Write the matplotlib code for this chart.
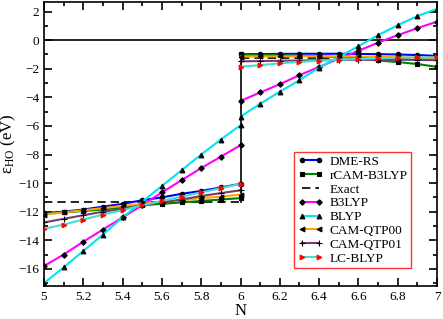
import matplotlib
matplotlib.use("Agg")
import matplotlib.pyplot as plt
from matplotlib.ticker import MultipleLocator

plt.rcParams['font.family'] = ['Liberation Serif', 'DejaVu Serif']
plt.rcParams['mathtext.fontset'] = 'custom'
plt.rcParams['mathtext.rm'] = 'Liberation Serif'
plt.rcParams['mathtext.it'] = 'Liberation Serif'

n_left = [5.0, 5.1, 5.2, 5.3, 5.4, 5.5, 5.6, 5.7, 5.8, 5.9, 6.0]
n_right = [6.0, 6.1, 6.2, 6.3, 6.4, 6.5, 6.6, 6.7, 6.8, 6.9, 7.0]

dme_left = [-12.1, -12.0, -11.85, -11.65, -11.45, -11.2, -11.0, -10.75, -10.55, -10.3, -10.05]
dme_right = [-0.98, -0.97, -0.96, -0.95, -0.95, -0.95, -0.96, -0.98, -1.0, -1.04, -1.1]
rcam_left = [-12.15, -12.05, -11.95, -11.85, -11.7, -11.55, -11.45, -11.35, -11.25, -11.15, -11.05]
rcam_right = [-1.0, -1.02, -1.05, -1.08, -1.12, -1.18, -1.28, -1.42, -1.53, -1.67, -1.87]
exact_left = [-11.3, -11.3]
exact_right = [-1.24, -1.24]
b3lyp_left = [-15.8, -15.0, -14.1, -13.25, -12.4, -11.55, -10.65, -9.8, -8.95, -8.15, -7.35]
b3lyp_right = [-4.25, -3.66, -3.08, -2.45, -1.87, -1.3, -0.75, -0.17, 0.35, 0.84, 1.3]
blyp_left = [-17.0, -15.9, -14.75, -13.6, -12.4, -11.3, -10.2, -9.1, -8.0, -6.95, -5.95]
blyp_right = [-5.35, -4.45, -3.6, -2.8, -1.92, -1.18, -0.42, 0.35, 1.05, 1.68, 2.2]
qtp00_left = [-12.2, -12.05, -11.9, -11.75, -11.6, -11.45, -11.3, -11.2, -11.05, -10.95, -10.8]
qtp00_right = [-1.15, -1.14, -1.13, -1.13, -1.13, -1.14, -1.15, -1.17, -1.19, -1.22, -1.25]
qtp01_left = [-12.75, -12.5, -12.25, -12.0, -11.8, -11.55, -11.35, -11.15, -10.9, -10.7, -10.5]
qtp01_right = [-1.48, -1.46, -1.44, -1.42, -1.4, -1.38, -1.37, -1.37, -1.37, -1.38, -1.4]
lc_left = [-13.2, -12.9, -12.55, -12.2, -11.9, -11.55, -11.25, -10.95, -10.65, -10.35, -10.05]
lc_right = [-1.85, -1.75, -1.62, -1.52, -1.43, -1.37, -1.31, -1.27, -1.23, -1.21, -1.2]

fig = plt.figure(figsize=(4.43, 3.19), dpi=100)
ax = fig.add_axes([0.0993, 0.1034, 0.8872, 0.8916])

ax.axhline(0, color='black', lw=1.2, zorder=1)
ax.plot([6, 6], [exact_left[0], dme_right[0]], color='black', lw=1.2, zorder=1)

series = [
    ("DME-RS", dme_left, dme_right, '#0000ff', 'o'),
    ("rCAM-B3LYP", rcam_left, rcam_right, '#008000', 's'),
    ("B3LYP", b3lyp_left, b3lyp_right, '#ff00ff', 'D'),
    ("BLYP", blyp_left, blyp_right, '#00e5ee', '^'),
    ("CAM-QTP00", qtp00_left, qtp00_right, '#ffa500', '<'),
    ("CAM-QTP01", qtp01_left, qtp01_right, '#7a3b6e', '+'),
    ("LC-BLYP", lc_left, lc_right, '#40e0d0', '>'),
]
sizes = {'o': 3.2, 's': 3.0, 'D': 2.8, '^': 3.4, '<': 3.4, '+': 5, '>': 3.4}
handles = {}
for name, yl, yr, col, mk in series:
    kw = dict(color=col, lw=1.5, marker=mk, markersize=sizes[mk], markerfacecolor='black',
              markeredgecolor='black', markeredgewidth=0.8, zorder=3)
    if name == "LC-BLYP":
        kw['markerfacecolor'] = 'red'
        kw['markeredgecolor'] = 'red'
    h, = ax.plot(n_left, yl, label=name, **kw)
    ax.plot(n_right, yr, **kw)
    handles[name] = h

h_exact, = ax.plot([5, 6], exact_left, color='black', lw=1.2, ls=(0, (5, 3)), label='Exact', zorder=2)
ax.plot([6, 7], exact_right, color='black', lw=1.2, ls=(0, (5, 3)), zorder=2)
handles['Exact'] = h_exact

order = ["DME-RS", "rCAM-B3LYP", "Exact", "B3LYP", "BLYP", "CAM-QTP00", "CAM-QTP01", "LC-BLYP"]
leg = ax.legend([handles[k] for k in order], order, loc='upper left',
                bbox_to_anchor=(0.637, 0.47), numpoints=2, fontsize=9.5,
                frameon=True, fancybox=False, handlelength=1.9, handletextpad=0.5,
                labelspacing=0.12, borderpad=0.25, borderaxespad=0)
leg.get_frame().set_edgecolor('red')
leg.get_frame().set_linewidth(1.0)

ax.set_xlim(5, 7)
ax.set_ylim(-17.2, 2.7)
ax.xaxis.set_major_locator(MultipleLocator(0.2))
ax.xaxis.set_minor_locator(MultipleLocator(0.1))
ax.yaxis.set_major_locator(MultipleLocator(2))
ax.yaxis.set_minor_locator(MultipleLocator(1))
ax.tick_params(which='both', direction='in', top=True, right=True, labelsize=9.5, width=1.2)
ax.tick_params(which='major', length=6)
ax.tick_params(which='minor', length=3)
ax.set_xticks([5, 5.2, 5.4, 5.6, 5.8, 6, 6.2, 6.4, 6.6, 6.8, 7])
ax.set_xticklabels(['5', '5.2', '5.4', '5.6', '5.8', '6', '6.2', '6.4', '6.6', '6.8', '7'])
for s in ax.spines.values():
    s.set_linewidth(1.2)
ax.set_xlabel('N', fontsize=12, labelpad=0)
ax.set_ylabel(r'$\mathrm{\varepsilon_{HO}}$ (eV)', fontsize=12, labelpad=0)

fig.savefig('out.png', dpi=100)
